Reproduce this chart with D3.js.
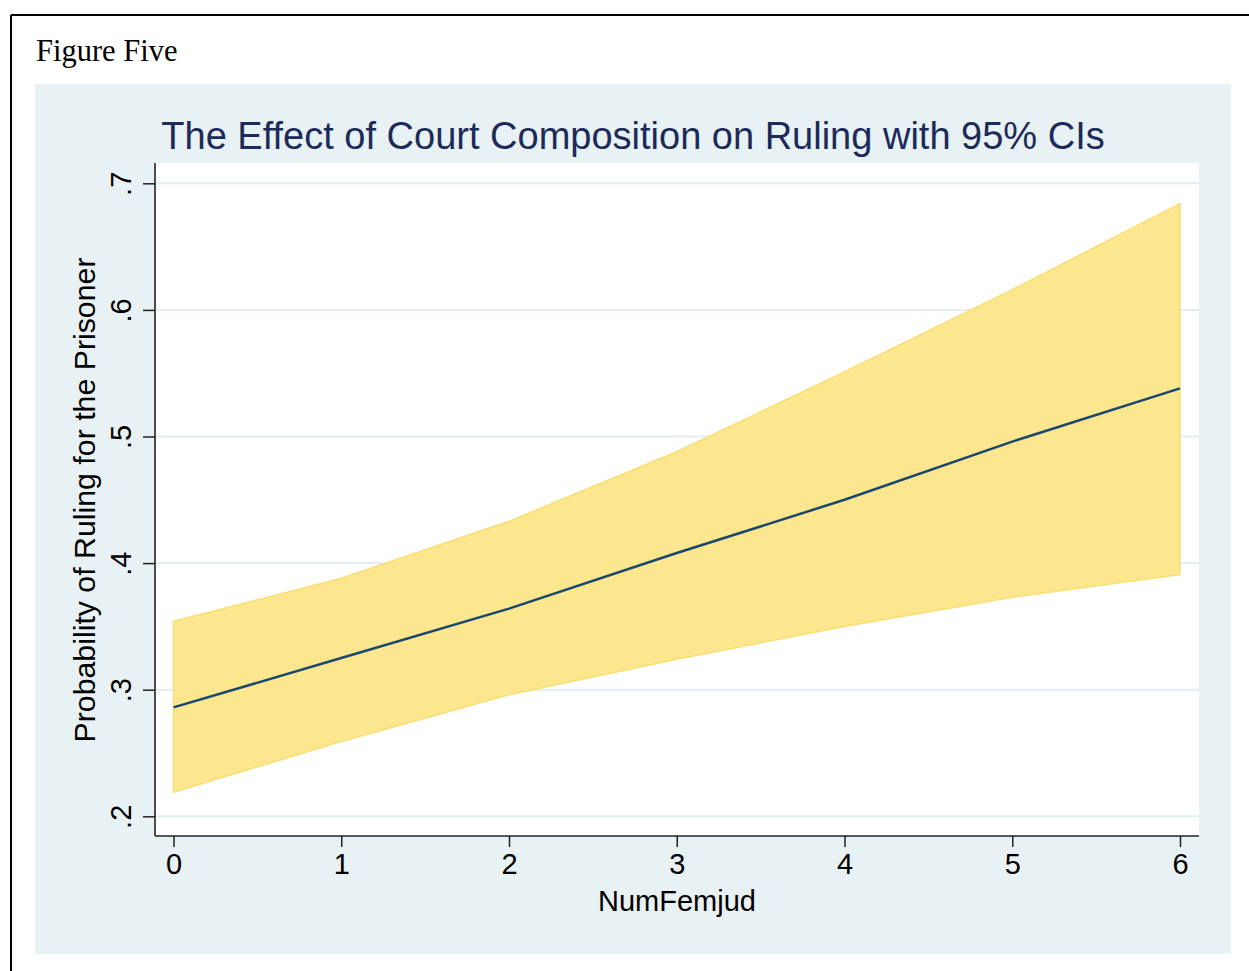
<!DOCTYPE html>
<html>
<head>
<meta charset="utf-8">
<script src="https://cdn.jsdelivr.net/npm/d3@7"></script>
<style>
  html, body { margin: 0; padding: 0; background: #ffffff; }
  svg { display: block; }
</style>
</head>
<body>
<svg id="chart" width="1249" height="971"></svg>
<script>
// ---- data ----
const numFemjud = [0, 1, 2, 3, 4, 5, 6];
const predicted = [0.286, 0.325, 0.364, 0.408, 0.450, 0.496, 0.538];
const upperCI   = [0.354, 0.388, 0.433, 0.488, 0.551, 0.616, 0.684];
const lowerCI   = [0.219, 0.259, 0.296, 0.324, 0.350, 0.373, 0.391];
const xTicks = [0, 1, 2, 3, 4, 5, 6];
const yTicks = [0.2, 0.3, 0.4, 0.5, 0.6, 0.7];
const yTickLabels = [".2", ".3", ".4", ".5", ".6", ".7"];

const titleText = "The Effect of Court Composition on Ruling with 95% CIs";
const xTitle = "NumFemjud";
const yTitle = "Probability of Ruling for the Prisoner";
const figureLabel = "Figure Five";

const rows = numFemjud.map((x, i) => ({ x, y: predicted[i], lo: lowerCI[i], hi: upperCI[i] }));

const svg = d3.select("#chart");
const sans = "'Liberation Sans', Arial, Helvetica, sans-serif";

// outer border (left and top visible)
svg.append("line").attr("x1", 11).attr("y1", 15).attr("x2", 1249).attr("y2", 15)
  .attr("stroke", "#000").attr("stroke-width", 2);
svg.append("line").attr("x1", 11).attr("y1", 15).attr("x2", 11).attr("y2", 971)
  .attr("stroke", "#000").attr("stroke-width", 2);

svg.append("text").attr("x", 36).attr("y", 61)
  .attr("font-family", "'Liberation Serif', 'Times New Roman', serif")
  .attr("font-size", 30.5).attr("fill", "#000").text(figureLabel);

// graph region
const panel = { x: 35, y: 84, w: 1196, h: 870 };
svg.append("rect").attr("x", panel.x).attr("y", panel.y)
  .attr("width", panel.w).attr("height", panel.h).attr("fill", "#e8f1f3");

// plot region
const plot = { left: 155, top: 163, right: 1199, bottom: 836 };
svg.append("rect").attr("x", plot.left).attr("y", plot.top)
  .attr("width", plot.right - plot.left).attr("height", plot.bottom - plot.top)
  .attr("fill", "#ffffff");

const x = d3.scaleLinear().domain([0, 6]).range([173.5, 1180]);
const y = d3.scaleLinear().domain([0.2, 0.7]).range([816.3, 183.3]);

// gridlines
svg.append("g").selectAll("line").data(yTicks).join("line")
  .attr("x1", plot.left).attr("x2", plot.right)
  .attr("y1", d => y(d)).attr("y2", d => y(d))
  .attr("stroke", "#e4eef1").attr("stroke-width", 2);

// CI band
const area = d3.area().x(d => x(d.x)).y0(d => y(d.lo)).y1(d => y(d.hi));
svg.append("path").datum(rows).attr("d", area)
  .attr("fill", "#fce68e").attr("stroke", "#f8de74").attr("stroke-width", 1.5)
  .attr("stroke-linejoin", "round");

// predicted line
const line = d3.line().x(d => x(d.x)).y(d => y(d.y));
svg.append("path").datum(rows).attr("d", line)
  .attr("fill", "none").attr("stroke", "#1a476f").attr("stroke-width", 2.5);

// axes
const xAxis = svg.append("g").attr("transform", `translate(0,${plot.bottom})`)
  .call(d3.axisBottom(x).tickValues(xTicks).tickFormat(d3.format("d")).tickSize(11).tickPadding(6));
xAxis.select(".domain").remove();
xAxis.append("line").attr("x1", plot.left).attr("x2", plot.right).attr("y1", 0).attr("y2", 0)
  .attr("stroke", "#222").attr("stroke-width", 1.6);
xAxis.selectAll(".tick line").attr("stroke", "#222").attr("stroke-width", 1.5);
xAxis.selectAll(".tick text").attr("font-family", sans).attr("font-size", 29)
  .attr("fill", "#000").attr("dy", "0.71em");

const yAxis = svg.append("g").attr("transform", `translate(${plot.left},0)`)
  .call(d3.axisLeft(y).tickValues(yTicks).tickFormat((d, i) => yTickLabels[i]).tickSize(12));
yAxis.select(".domain").remove();
yAxis.append("line").attr("x1", 0).attr("x2", 0).attr("y1", plot.top).attr("y2", plot.bottom)
  .attr("stroke", "#222").attr("stroke-width", 1.6);
yAxis.selectAll(".tick line").attr("stroke", "#222").attr("stroke-width", 1.5);
yAxis.selectAll(".tick text")
  .attr("x", null).attr("dy", null)
  .attr("transform", "translate(-24,0) rotate(-90)")
  .attr("text-anchor", "middle")
  .attr("font-family", sans).attr("font-size", 29).attr("fill", "#000");

// titles
svg.append("text").attr("x", 633).attr("y", 149).attr("text-anchor", "middle")
  .attr("font-family", sans).attr("font-size", 38).attr("fill", "#1c2b5a").text(titleText);

svg.append("text").attr("x", (plot.left + plot.right) / 2).attr("y", 911).attr("text-anchor", "middle")
  .attr("font-family", sans).attr("font-size", 29).attr("fill", "#000").text(xTitle);

svg.append("text").attr("transform", `translate(95,500) rotate(-90)`).attr("text-anchor", "middle")
  .attr("font-family", sans).attr("font-size", 30.3).attr("fill", "#000").text(yTitle);
</script>
</body>
</html>
